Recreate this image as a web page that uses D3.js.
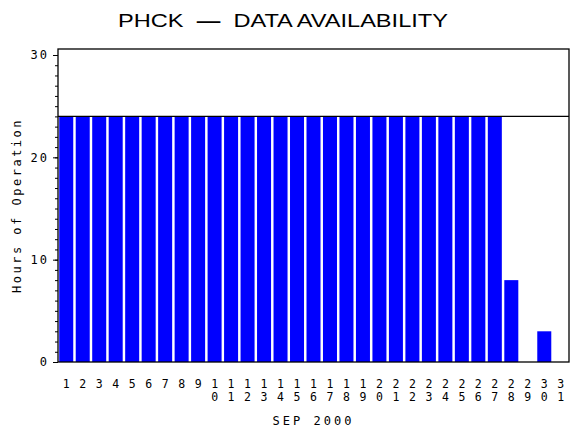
<!DOCTYPE html>
<html>
<head>
<meta charset="utf-8">
<script src="https://cdn.jsdelivr.net/npm/d3@7"></script>
<style>
  body { margin: 0; background: #fff; }
  text { font-family: "DejaVu Sans Mono", monospace; fill: #000; }
</style>
</head>
<body>
<div id="chart"></div>
<script>
/**
 * Data availability - hours of operation per day
 */

var days = d3.range(1, 32).map(String);
var hours = [24, 24, 24, 24, 24, 24, 24, 24, 24, 24,
             24, 24, 24, 24, 24, 24, 24, 24, 24, 24,
             24, 24, 24, 24, 24, 24, 24, 8, 0, 3, 0];
var yTicks = [0, 10, 20, 30];
var refLine = 24;

var svgWidth = 570;
var svgHeight = 430;
var plotLeft = 58, plotRight = 569, plotTop = 49, plotBottom = 362;

var svg = d3.select('#chart')
    .append('svg')
    .attr('width', svgWidth)
    .attr('height', svgHeight);

var x = d3.scaleBand()
    .domain(days)
    .range([plotLeft, plotRight])
    .paddingInner(0.15)
    .paddingOuter(0.075);

var y = d3.scaleLinear()
    .domain([0, 30])
    .range([plotBottom, 55]);

// bars
svg.selectAll('rect.bar')
    .data(hours)
    .enter()
    .append('rect')
    .attr('class', 'bar')
    .attr('x', function(d, i) { return x(days[i]); })
    .attr('width', x.bandwidth())
    .attr('y', function(d) { return y(d); })
    .attr('height', function(d) { return plotBottom - y(d); })
    .style('fill', '#0000ff');

// frame
svg.append('rect')
    .attr('x', plotLeft)
    .attr('y', plotTop)
    .attr('width', plotRight - plotLeft)
    .attr('height', plotBottom - plotTop)
    .style('fill', 'none')
    .style('stroke', '#000')
    .style('stroke-width', 1.3);

// reference line
svg.append('line')
    .attr('x1', plotLeft).attr('x2', plotRight)
    .attr('y1', y(refLine)).attr('y2', y(refLine))
    .style('stroke', '#000')
    .style('stroke-width', 1.3);

// y axis with minor ticks
var yMinor = d3.axisLeft(y)
    .tickValues(d3.range(0, 31))
    .tickSize(3)
    .tickFormat('');
svg.append('g')
    .attr('transform', 'translate(' + plotLeft + ',0)')
    .call(yMinor)
    .call(function(g) { g.select('.domain').remove(); });

var yMajor = d3.axisLeft(y)
    .tickValues(yTicks)
    .tickSize(5)
    .tickPadding(4);
var gy = svg.append('g')
    .attr('transform', 'translate(' + plotLeft + ',0)')
    .call(yMajor);
gy.select('.domain').remove();
gy.selectAll('line').style('stroke', '#000');
gy.selectAll('text')
    .style('font-size', '12px')
    .style('letter-spacing', '2px')
    .style('font-family', '"DejaVu Sans Mono", monospace');

// x labels: digits stacked vertically, one text per digit
var xDigits = [];
days.forEach(function(d) {
    d.split('').forEach(function(ch, k) {
        xDigits.push({ day: d, ch: ch, row: k });
    });
});
svg.append('g').selectAll('text')
    .data(xDigits)
    .enter()
    .append('text')
    .attr('x', function(d) { return x(d.day) + x.bandwidth() / 2; })
    .attr('y', function(d) { return 387.5 + d.row * 13; })
    .attr('text-anchor', 'middle')
    .style('font-size', '11.5px')
    .text(function(d) { return d.ch; });

// axis titles
svg.append('text')
    .attr('x', (plotLeft + plotRight) / 2)
    .attr('y', 425)
    .attr('text-anchor', 'middle')
    .style('font-size', '12px')
    .style('letter-spacing', '3px')
    .text('SEP 2000');

svg.append('text')
    .attr('transform', 'translate(21,' + ((plotTop + plotBottom) / 2) + ') rotate(-90)')
    .attr('text-anchor', 'middle')
    .style('font-size', '12px')
    .style('letter-spacing', '2.5px')
    .text('Hours of Operation');

// title
var title = svg.append('text')
    .attr('x', 118)
    .attr('y', 26.5)
    .attr('textLength', 330)
    .attr('lengthAdjust', 'spacingAndGlyphs')
    .attr('xml:space', 'preserve')
    .style('font-family', '"Liberation Sans", sans-serif')
    .style('font-size', '18.5px');
title.append('tspan').text('PHCK  ');
title.append('tspan').style('font-weight', 'bold').text('\u2014');
title.append('tspan').text('  DATA AVAILABILITY');
</script>
</body>
</html>
